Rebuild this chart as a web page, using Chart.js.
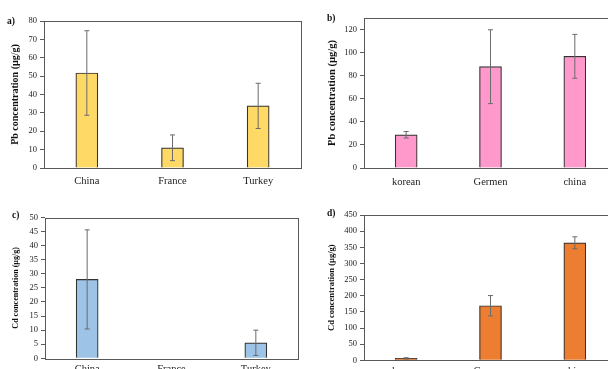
<!DOCTYPE html>
<html>
<head>
<meta charset="utf-8">
<script src="https://cdn.jsdelivr.net/npm/chart.js@4.4.1/dist/chart.umd.min.js"></script>
<style>
  html, body { margin: 0; padding: 0; background: #fff; width: 608px; height: 369px; overflow: hidden; }
  .panel { position: absolute; }
  .tag { position: absolute; font: bold 9.5px "Liberation Serif", serif; color: #111; }
</style>
</head>
<body>
<canvas id="chartA" class="panel" style="left:0;top:0"></canvas>
<canvas id="chartB" class="panel" style="left:300px;top:0"></canvas>
<canvas id="chartC" class="panel" style="left:0;top:190px"></canvas>
<canvas id="chartD" class="panel" style="left:300px;top:190px"></canvas>
<div class="tag" style="left:7px;top:16px">a)</div>
<div class="tag" style="left:327px;top:13px">b)</div>
<div class="tag" style="left:12px;top:210px">c)</div>
<div class="tag" style="left:327px;top:208px">d)</div>
<script>
// data
const countriesA = ["China", "France", "Turkey"];
const pbA = [51.7, 11.0, 33.8];
const pbAErr = [23.0, 7.0, 12.3];

const countriesB = ["korean", "Germen", "china"];
const pbB = [28.8, 87.8, 96.8];
const pbBErr = [2.8, 32.0, 19.0];

const cdC = [28.0, 0, 5.5];
const cdCErr = [17.6, 0, 4.5];

const cdD = [6, 169, 364];
const cdDErr = [2, 31.5, 18.5];

const pbTitle = "Pb concentration (µg/g)";
const cdTitle = "Cd concentration (µg/g)";

const FONT = "'Liberation Serif', 'Times New Roman', serif";
const LINE = "#595959";

// error bars drawn through the y scale
const errorBars = {
  id: "errorBars",
  afterDatasetsDraw(chart) {
    const ctx = chart.ctx;
    const y = chart.scales.y;
    chart.data.datasets.forEach((ds, i) => {
      if (!ds.errors) return;
      chart.getDatasetMeta(i).data.forEach((bar, j) => {
        const e = ds.errors[j];
        if (!e) return;
        const v = ds.data[j];
        const top = y.getPixelForValue(v + e);
        const bot = y.getPixelForValue(Math.max(v - e, 0));
        ctx.save();
        ctx.strokeStyle = "#6b6b6b";
        ctx.lineWidth = 1;
        ctx.beginPath();
        ctx.moveTo(bar.x, top);
        ctx.lineTo(bar.x, bot);
        ctx.moveTo(bar.x - 2.5, top);
        ctx.lineTo(bar.x + 2.5, top);
        ctx.moveTo(bar.x - 2.5, bot);
        ctx.lineTo(bar.x + 2.5, bot);
        ctx.stroke();
        ctx.restore();
      });
    });
  }
};

// frame round the plot area
const frame = {
  id: "frame",
  afterDraw(chart) {
    const a = chart.chartArea;
    const ctx = chart.ctx;
    ctx.save();
    ctx.strokeStyle = LINE;
    ctx.lineWidth = 1;
    ctx.strokeRect(Math.round(a.left) + 0.5, Math.round(a.top) + 0.5,
      Math.round(a.right - a.left), Math.round(a.bottom - a.top));
    ctx.restore();
  }
};

function makeChart(id, cfg) {
  const canvas = document.getElementById(id);
  canvas.width = cfg.w;
  canvas.height = cfg.h;
  canvas.style.width = cfg.w + "px";
  canvas.style.height = cfg.h + "px";
  return new Chart(canvas, {
    type: "bar",
    data: {
      labels: cfg.labels,
      datasets: [{
        data: cfg.values,
        errors: cfg.errors,
        backgroundColor: cfg.color,
        borderColor: "#333",
        borderWidth: 1.2,
        barThickness: 22,
      }],
    },
    options: {
      responsive: false,
      animation: false,
      devicePixelRatio: 1,
      layout: { padding: { left: 0, top: cfg.top, right: cfg.w - cfg.right, bottom: 0 } },
      plugins: { legend: { display: false }, tooltip: { enabled: false } },
      scales: {
        x: {
          grid: { display: false, drawTicks: false },
          border: { display: false },
          ticks: { color: "#222", padding: cfg.xPad, font: { family: FONT, size: cfg.xFont } },
          afterFit: (s) => { s.height = cfg.h - cfg.bottom; },
        },
        y: {
          min: 0,
          max: cfg.max,
          ticks: { stepSize: cfg.step, color: "#222", padding: 3, font: { family: FONT, size: cfg.yFont } },
          grid: { drawOnChartArea: false, drawTicks: true, tickLength: 4, color: LINE },
          border: { display: false },
          title: {
            display: true,
            text: cfg.title,
            color: "#111",
            padding: { top: cfg.titlePad, bottom: 0 },
            font: { family: FONT, size: cfg.titleFont, weight: "bold" },
          },
          // keep only whole steps (no extra label at an odd max)
          afterBuildTicks: (s) => { s.ticks = s.ticks.filter((t) => t.value % cfg.step === 0); },
          afterFit: (s) => { s.width = cfg.left; },
        },
      },
    },
    plugins: [errorBars, frame],
  });
}

makeChart("chartA", {
  w: 310, h: 190, left: 44, right: 301, top: 21, bottom: 168,
  labels: countriesA, values: pbA, errors: pbAErr, color: "#FFD966",
  max: 80, step: 10, title: pbTitle, titleFont: 10, titlePad: 9,
  xFont: 10.5, yFont: 8.5, xPad: 7,
});

makeChart("chartB", {
  w: 330, h: 190, left: 64, right: 317, top: 18, bottom: 168,
  labels: countriesB, values: pbB, errors: pbBErr, color: "#FF99CC",
  max: 130, step: 20, title: pbTitle, titleFont: 10.5, titlePad: 26,
  xFont: 10.5, yFont: 8.5, xPad: 8,
});

makeChart("chartC", {
  w: 310, h: 190, left: 45, right: 298, top: 27.5, bottom: 168.3,
  labels: countriesA, values: cdC, errors: cdCErr, color: "#9DC3E6",
  max: 50, step: 5, title: cdTitle, titleFont: 8, titlePad: 11,
  xFont: 10.5, yFont: 8.5, xPad: 5,
});

makeChart("chartD", {
  w: 330, h: 190, left: 64, right: 317, top: 25, bottom: 170.3,
  labels: countriesB, values: cdD, errors: cdDErr, color: "#ED7D31",
  max: 450, step: 50, title: cdTitle, titleFont: 8.5, titlePad: 27,
  xFont: 10.5, yFont: 8.5, xPad: 5,
});
</script>
</body>
</html>
